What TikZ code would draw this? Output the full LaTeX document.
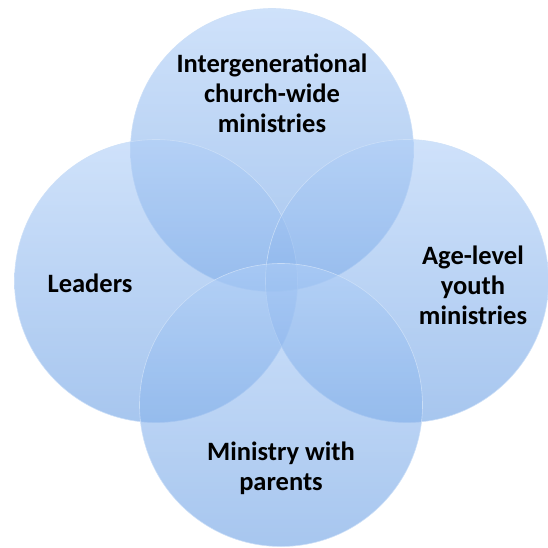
\documentclass[tikz,border=0pt]{standalone}
\usepackage{fontspec}
\setmainfont{Carlito}
\definecolor{ringtop}{RGB}{175,206,247}
\definecolor{ringbot}{RGB}{108,160,228}
\definecolor{ringline}{RGB}{205,224,248}

\begin{document}
\begin{tikzpicture}[x=1pt, y=-1pt,
	ring/.style={circle, minimum size=283pt, inner sep=0pt, top color=ringtop, bottom color=ringbot, draw=ringline, fill opacity=0.6, draw opacity=0.9, line width=0.6pt},
	ringtext/.style={font=\bfseries\fontsize{26.5}{30}\selectfont, align=center, text=black}]
	\useasboundingbox (0,0) rectangle (548,548);

	\node[ring] (top) at (272,150) {};
	\node[ring] (left) at (156,281) {};
	\node[ring] (right) at (407,281) {};
	\node[ring] (bottom) at (281,405) {};

	\node[ringtext] (toptext) at (272,93) {Intergenerational\\church-wide\\ministries};
	\node[ringtext] (lefttext) at (90,283) {Leaders};
	\node[ringtext] (righttext) at (473,285) {Age-level\\youth\\ministries};
	\node[ringtext] (bottomtext) at (281,468) {Ministry with\\parents};
\end{tikzpicture}
\end{document}
